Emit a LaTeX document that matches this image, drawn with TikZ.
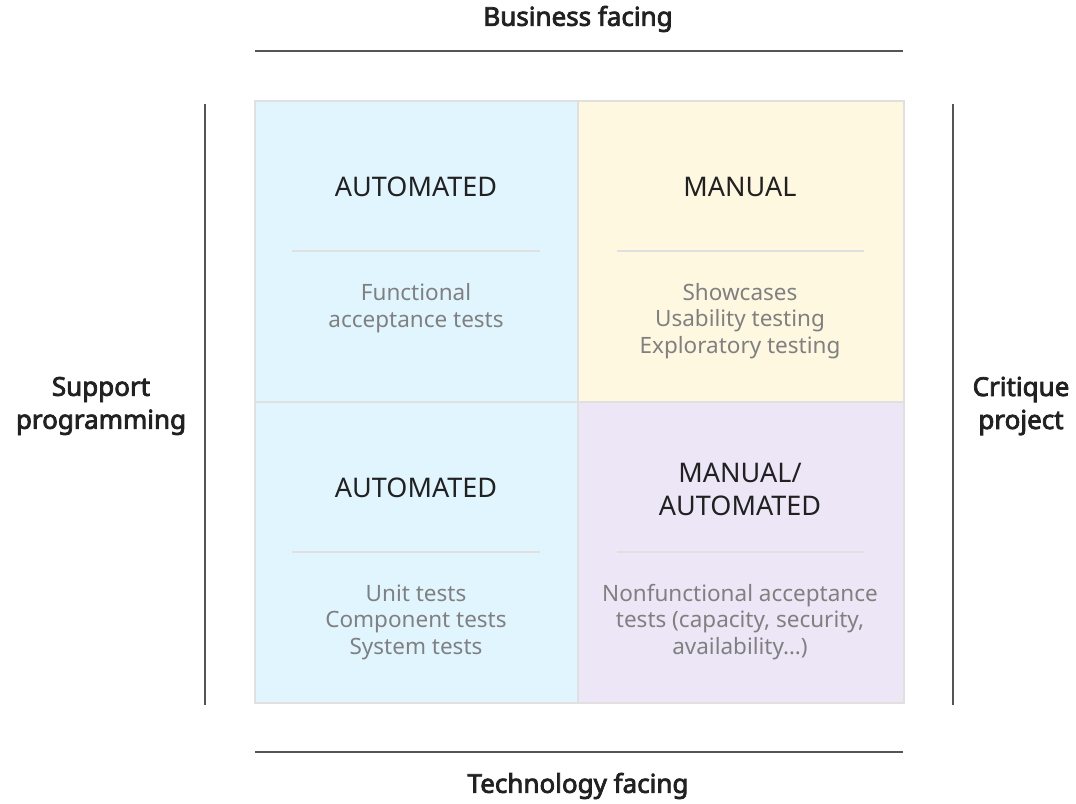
\documentclass[tikz,border=0pt]{standalone}
\usepackage{fontspec}
\setmainfont{Noto Sans}
\newfontfamily\axisfont{Noto Sans}[FakeBold=3]
\usepackage{tikz}
\definecolor{cellblue}{HTML}{E1F5FE}
\definecolor{cellyellow}{HTML}{FEF8E1}
\definecolor{cellviolet}{HTML}{EDE6F6}
\definecolor{cellrule}{HTML}{E0E0E0}
\definecolor{axisline}{HTML}{555555}
\definecolor{headtext}{HTML}{212121}
\definecolor{bodytext}{HTML}{808080}
\begin{document}
\begin{tikzpicture}[x=1pt, y=-1pt,
    axis/.style={font=\axisfont\fontsize{26}{33}\selectfont, text=headtext, align=center},
    cell/.style={draw=cellrule, line width=2pt},
    head/.style={font=\fontsize{27}{33}\selectfont, text=headtext, align=center},
    body/.style={font=\fontsize{22.5}{26.5}\selectfont, text=bodytext, align=center}]
        \useasboundingbox (0, 0) rectangle (1076, 803);

        % quadrants
        \fill[cellblue]   (255, 101) rectangle (578, 402);
        \fill[cellyellow] (578, 101) rectangle (904, 402);
        \fill[cellblue]   (255, 402) rectangle (578, 703);
        \fill[cellviolet] (578, 402) rectangle (904, 703);
        \draw[cell] (255, 101) rectangle (904, 703);
        \draw[cell] (578, 101) -- (578, 703) (255, 402) -- (904, 402);

        % axes
        \node[axis](bus)  at (578, 19)  {Business facing};
        \node[axis](tech) at (578, 786) {Technology facing};
        \node[axis](sup)  at (101, 406) {Support\\programming};
        \node[axis](crit) at (1021, 406) {Critique\\project};

        \coordinate(tl) at (255, 51);  \coordinate(tr) at (903, 51);
        \coordinate(bl) at (255, 752); \coordinate(br) at (903, 752);
        \coordinate(lt) at (205, 104); \coordinate(lb) at (205, 705);
        \coordinate(rt) at (953, 104); \coordinate(rb) at (953, 705);
        \draw[axisline, line width=2pt] (tl) -- (tr) (bl) -- (br) (lt) -- (lb) (rt) -- (rb);

        % headings
        \node[head](h1) at (416, 187) {AUTOMATED};
        \node[head](h2) at (740, 187) {MANUAL};
        \node[head](h3) at (416, 488) {AUTOMATED};
        \node[head](h4) at (740, 489) {MANUAL/\\AUTOMATED};

        \draw[cellrule, line width=2pt] (292, 251) -- (540, 251) (617, 251) -- (864, 251)
                                        (292, 552) -- (540, 552) (617, 552) -- (864, 552);

        % contents
        \node[body](b1) at (416, 308) {Functional\\acceptance tests};
        \node[body](b2) at (740, 321) {Showcases\\Usability testing\\Exploratory testing};
        \node[body](b3) at (416, 622) {Unit tests\\Component tests\\System tests};
        \node[body](b4) at (740, 622) {Nonfunctional acceptance\\tests (capacity, security,\\availability\dots)};

      \end{tikzpicture}
\end{document}
